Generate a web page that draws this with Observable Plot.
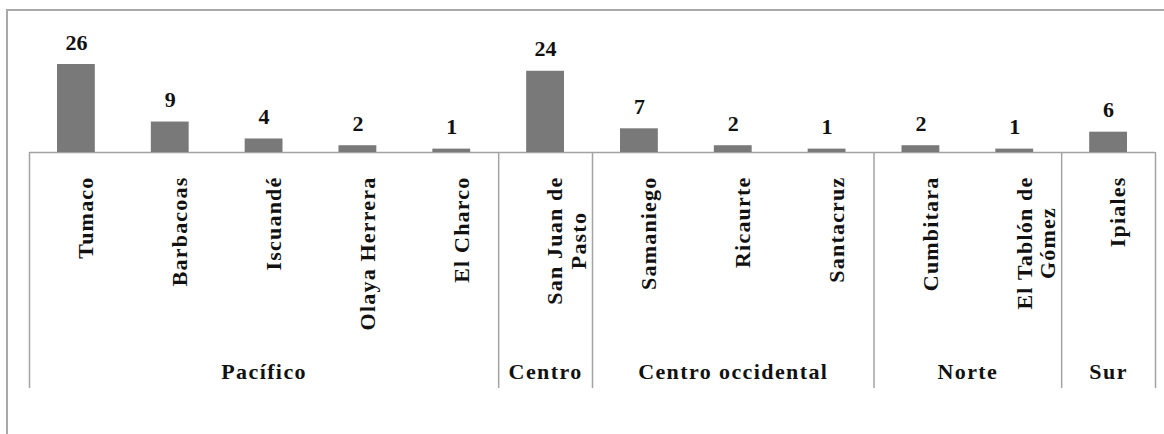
<!DOCTYPE html>
<html><head><meta charset="utf-8">
<script src="https://cdn.jsdelivr.net/npm/d3@7"></script>
<script src="https://cdn.jsdelivr.net/npm/@observablehq/plot@0.6"></script>
<style>
html,body{margin:0;padding:0;background:#fff;}
#wrap{position:relative;width:1164px;height:434px;overflow:hidden;}
#border{position:absolute;left:6px;top:9px;right:-10px;bottom:-10px;border-left:2px solid #a9a9a9;border-top:2px solid #a9a9a9;}
#chart{position:absolute;left:0;top:0;}
g.cat text{letter-spacing:1.2px;}
g.grp text{letter-spacing:1.4px;}
</style></head><body>
<div id="wrap"><div id="border"></div><div id="chart"></div></div>
<script>
// Municipios (categorías)
const municipios = ["Tumaco","Barbacoas","Iscuandé","Olaya Herrera","El Charco","San Juan de Pasto","Samaniego","Ricaurte","Santacruz","Cumbitara","El Tablón de Gómez","Ipiales"];
// Etiquetas del eje tal como aparecen (con saltos de línea)
const etiquetas = ["Tumaco","Barbacoas","Iscuandé","Olaya Herrera","El Charco","San Juan de\nPasto","Samaniego","Ricaurte","Santacruz","Cumbitara","El Tablón de\nGómez","Ipiales"];
// Valores
const valores = [26,9,4,2,1,24,7,2,1,2,1,6];
// Subregión de cada municipio
const subregion = ["Pacífico","Pacífico","Pacífico","Pacífico","Pacífico","Centro","Centro occidental","Centro occidental","Centro occidental","Norte","Norte","Sur"];

const data = municipios.map((m, i) => ({i, m, label: etiquetas[i], v: valores[i], g: subregion[i]}));
const grupos = [];
data.forEach(d => {
  const last = grupos[grupos.length - 1];
  if (last && last.g === d.g) last.end = d.i + 1;
  else grupos.push({g: d.g, start: d.i, end: d.i + 1});
});
const bordes = [0, ...grupos.map(g => g.end)];

const font = "'Liberation Serif', 'Times New Roman', serif";
const ink = "#111";
const line = "#a3a3a3";

const plot = Plot.plot({
  width: 1164, height: 434,
  marginTop: 152, marginBottom: 46, marginLeft: 29, marginRight: 9,
  x: {domain: [0, municipios.length], axis: null},
  y: {domain: [0, 26], range: [152, 64], axis: null},
  style: {fontFamily: font, fontWeight: "bold", background: "transparent", color: ink},
  marks: [
    Plot.ruleY([0], {stroke: line, strokeWidth: 1.5}),
    Plot.ruleX(bordes, {stroke: line, strokeWidth: 1.5}),
    Plot.rectY(data, {x1: "i", x2: d => d.i + 1, y: "v", insetLeft: 28, insetRight: 28, fill: "#797979"}),
    Plot.text(data, {x: d => d.i + 0.5, y: "v", text: d => String(d.v), dy: -15, lineAnchor: "bottom",
      fontSize: 22, fontWeight: "bold", fill: ink}),
    Plot.text(data, {x: d => d.i + 0.5, frameAnchor: "top", text: "label", rotate: -90, textAnchor: "end",
      dy: 24, fontSize: 22, lineHeight: 1.08, fontWeight: "bold", fill: ink, className: "cat"}),
    Plot.text(grupos, {x: d => (d.start + d.end) / 2, frameAnchor: "bottom", text: "g", dy: -10,
      lineAnchor: "bottom", fontSize: 22, fontWeight: "bold", fill: ink, className: "grp"})
  ]
});
document.getElementById("chart").appendChild(plot);

// centrar las líneas cortas de las etiquetas de dos líneas
plot.querySelectorAll("g.cat text").forEach(t => {
  const spans = [...t.querySelectorAll("tspan")];
  if (spans.length < 2) return;
  const lens = spans.map(s => s.getComputedTextLength());
  const mx = Math.max(...lens);
  spans.forEach((s, k) => s.setAttribute("x", -(mx - lens[k]) / 2));
});
</script>
</body></html>
